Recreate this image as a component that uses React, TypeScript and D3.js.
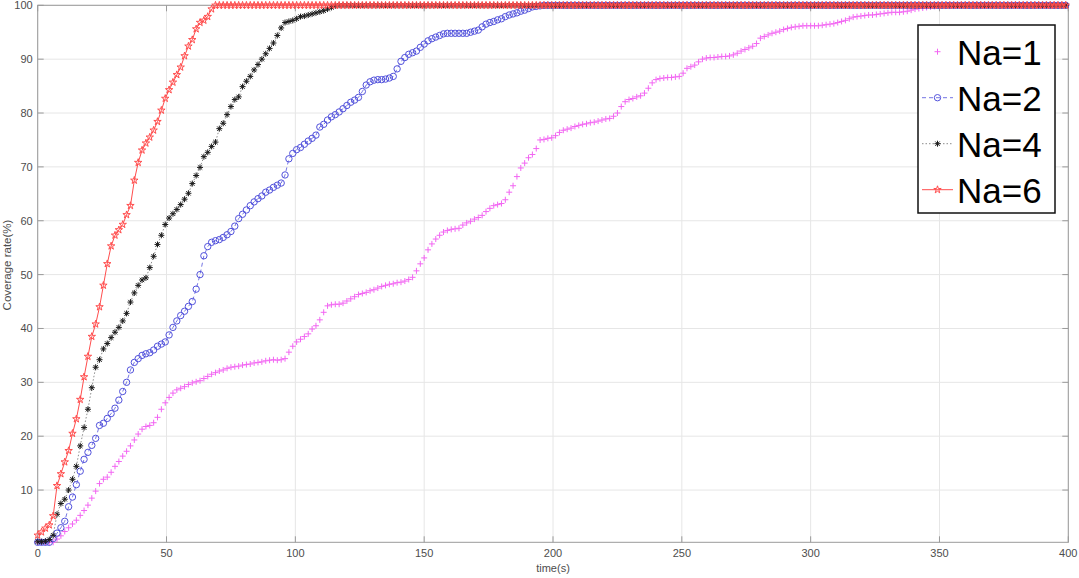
import React from "react";
import * as d3 from "d3";

// ---- data (coverage rate %, sampled every DT seconds) ----
const DT = 1.5;
const T_MAX = 400;
const FULL_VALUE = 100;
const X_TICKS = [0, 50, 100, 150, 200, 250, 300, 350, 400];
const Y_TICKS = [10, 20, 30, 40, 50, 60, 70, 80, 90, 100];
const SERIES_NAMES = ["Na=1", "Na=2", "Na=4", "Na=6"];

const NA1 = [
  0.3, 0.3, 0.3, 0.3, 0.3, 0.9, 1.5, 2.3, 3.0, 3.7, 4.4, 5.3, 6.2, 7.2, 8.5, 9.8, 11.2, 12.0, 12.4, 13.3,
  14.4, 15.3, 16.3, 17.2, 18.2, 19.3, 20.4, 21.3, 21.8, 22.0, 22.5, 23.5, 25.0, 26.2, 27.2, 28.0, 28.6, 28.9, 29.2, 29.6,
  29.9, 30.1, 30.3, 30.7, 31.1, 31.5, 31.8, 32.1, 32.3, 32.6, 32.8, 32.9, 33.0, 33.2, 33.3, 33.4, 33.6, 33.7, 33.8, 34.0,
  34.1, 34.2, 34.1, 34.2, 34.4, 35.6, 36.7, 37.5, 38.0, 38.5, 39.0, 39.9, 40.5, 41.6, 43.0, 44.2, 44.4, 44.5, 44.5, 44.7,
  45.1, 45.5, 45.9, 46.3, 46.5, 46.7, 47.0, 47.2, 47.5, 47.8, 48.0, 48.2, 48.3, 48.5, 48.6, 48.8, 49.1, 49.5, 50.7, 52.0,
  53.1, 54.6, 55.7, 56.6, 57.3, 57.9, 58.2, 58.4, 58.5, 58.6, 59.2, 59.6, 59.9, 60.3, 60.6, 61.0, 61.7, 62.3, 62.8, 63.0,
  63.2, 63.9, 65.3, 66.5, 68.2, 69.8, 70.7, 71.7, 72.3, 73.4, 75.0, 75.1, 75.3, 75.4, 75.8, 76.4, 76.8, 77.0, 77.2, 77.5,
  77.7, 77.9, 78.0, 78.2, 78.3, 78.5, 78.7, 78.9, 79.0, 79.4, 80.0, 81.2, 82.1, 82.5, 82.7, 83.0, 83.2, 83.7, 84.6, 85.6,
  86.2, 86.4, 86.5, 86.6, 86.6, 86.7, 86.8, 87.4, 88.3, 88.6, 88.9, 89.5, 90.0, 90.2, 90.3, 90.3, 90.4, 90.5, 90.5, 90.6,
  90.8, 91.1, 91.5, 91.8, 92.1, 92.4, 92.9, 93.9, 94.2, 94.5, 94.8, 95.0, 95.2, 95.5, 95.7, 95.9, 96.0, 96.1, 96.2, 96.2,
  96.2, 96.2, 96.2, 96.3, 96.4, 96.5, 96.6, 96.8, 97.0, 97.2, 97.5, 97.8, 97.9, 98.0, 98.1, 98.2, 98.2, 98.3, 98.4, 98.5,
  98.6, 98.7, 98.7, 98.7, 98.8, 98.9, 99.1, 99.3, 99.4, 99.5, 99.6, 99.7, 99.8, 99.9, 100,
];

const NA2 = [
  0.3, 0.3, 0.3, 0.3, 1.0, 2.0, 3.0, 4.2, 6.9, 8.7, 11.0, 13.5, 15.7, 17.0, 18.3, 19.6, 22.0, 22.4, 23.3, 24.2,
  25.2, 26.7, 28.3, 30.0, 32.3, 33.7, 34.4, 35.0, 35.3, 35.5, 36.0, 36.7, 37.1, 37.5, 38.8, 40.2, 41.4, 42.4, 43.2, 44.1,
  45.0, 47.3, 50.0, 53.5, 55.2, 56.0, 56.3, 56.5, 56.9, 57.4, 58.0, 59.0, 60.4, 61.2, 62.0, 62.8, 63.5, 64.1, 64.6, 65.3,
  65.7, 66.2, 66.6, 67.0, 68.5, 71.5, 72.5, 73.2, 73.6, 74.2, 74.8, 75.3, 75.9, 77.4, 77.9, 78.7, 79.3, 79.7, 80.2, 80.8,
  81.4, 82.0, 82.4, 82.9, 84.0, 85.2, 85.8, 86.1, 86.2, 86.2, 86.3, 86.5, 86.8, 88.2, 89.6, 90.3, 90.9, 91.2, 91.5, 92.2,
  92.8, 93.4, 93.8, 94.1, 94.4, 94.7, 94.8, 94.8, 94.8, 94.8, 94.8, 94.8, 95.0, 95.2, 95.4, 96.0, 96.5, 96.8, 97.0, 97.3,
  97.5, 97.9, 98.2, 98.4, 98.6, 98.9, 99.1, 99.4, 99.7, 99.8, 99.9, 100,
];

const NA4 = [
  0.4, 0.4, 0.5, 0.8, 1.6, 5.5, 7.5, 8.3, 10.0, 12.0, 14.4, 18.2, 21.6, 25.0, 29.0, 32.8, 34.2, 36.2, 37.2, 38.3,
  39.3, 40.2, 41.4, 42.8, 44.9, 46.6, 48.0, 49.0, 49.4, 51.3, 53.4, 55.6, 57.3, 59.3, 60.5, 61.3, 62.1, 63.0, 64.0, 65.1,
  66.9, 68.4, 69.9, 71.9, 72.7, 73.8, 74.6, 77.1, 78.1, 79.7, 81.2, 82.5, 83.0, 84.9, 85.9, 86.8, 88.0, 89.0, 90.0, 91.0,
  92.0, 93.0, 94.4, 95.8, 96.8, 97.0, 97.2, 97.5, 97.9, 98.0, 98.2, 98.4, 98.6, 98.8, 99.0, 99.3, 99.6, 99.9, 100,
];

const NA6 = [
  1.6, 2.2, 2.9, 3.5, 5.2, 10.8, 13.0, 15.2, 17.3, 20.5, 23.2, 26.8, 31.0, 34.8, 38.5, 40.8, 44.0, 48.0, 52.0, 55.3,
  57.3, 58.3, 59.3, 61.1, 62.8, 67.5, 70.8, 73.1, 74.4, 75.5, 76.8, 78.4, 80.5, 82.7, 84.3, 85.7, 87.1, 88.5, 90.6, 92.4,
  93.6, 95.6, 96.8, 97.2, 97.9, 99.3, 100,
];

const SERIES_VALUES = [NA1, NA2, NA4, NA6];

// ---- styles ----
const COLORS = ["#f266f2", "#5252dc", "#1a1a1a", "#ff4d4d"];
const LINE_DASH = [null, "4,3", "1.5,2", null];
const LINE_OPACITY = [0, 0.8, 0.5, 1];

const W = 1079;
const H = 578;
const M = { left: 37.7, right: 1068.3, top: 5.3, bottom: 542.3 };

function markerPath(i: number): string {
  if (i === 0) return "M-3,0H3M0,-3V3";
  if (i === 1) {
    const c = d3.path();
    c.arc(0, 0, 3.2, 0, Math.PI * 2);
    return c.toString();
  }
  if (i === 2) return "M-3,0H3M0,-3V3M-2.2,-2.2L2.2,2.2M-2.2,2.2L2.2,-2.2";
  return d3.symbol().type(d3.symbolStar).size(17)() as string;
}

export default function App() {
  if (typeof document !== "undefined") document.body.style.margin = "0";

  const x = d3.scaleLinear().domain([0, T_MAX]).range([M.left, M.right]);
  const y = d3.scaleLinear().domain([0.3, 100]).range([M.bottom, M.top]);

  const series = SERIES_VALUES.map((vals) => {
    const pts: [number, number][] = vals.map((v, k) => [k * DT, v]);
    let t = vals.length * DT;
    while (t <= T_MAX + 1e-9) {
      pts.push([t, FULL_VALUE]);
      t += DT;
    }
    return pts;
  });

  const line = d3
    .line<[number, number]>()
    .x((d) => x(d[0]))
    .y((d) => y(d[1]));

  const axisColor = "#9a9a9a";
  const textColor = "#4d4d4d";
  const font = "'Liberation Sans', Arial, sans-serif";

  const legendX = 918;
  const legendY = 25;
  const legendW = 137;
  const legendH = 188;

  return (
    <svg width={W} height={H} style={{ display: "block", background: "#fff" }} fontFamily={font}>
      <rect x={0} y={0} width={W} height={H} fill="#fff" />
      {/* grid */}
      {X_TICKS.map((t) => (
        <line key={"gx" + t} x1={x(t)} x2={x(t)} y1={M.top} y2={M.bottom} stroke="#e6e6e6" strokeWidth={1} />
      ))}
      {Y_TICKS.map((v) => (
        <line key={"gy" + v} x1={M.left} x2={M.right} y1={y(v)} y2={y(v)} stroke="#e6e6e6" strokeWidth={1} />
      ))}
      {/* box */}
      <rect x={M.left} y={M.top} width={M.right - M.left} height={M.bottom - M.top} fill="none" stroke={axisColor} strokeWidth={1} />
      {/* ticks */}
      {X_TICKS.map((t) => (
        <g key={"tx" + t}>
          <line x1={x(t)} x2={x(t)} y1={M.bottom} y2={M.bottom - 6} stroke={axisColor} />
          <line x1={x(t)} x2={x(t)} y1={M.top} y2={M.top + 6} stroke={axisColor} />
          <text x={x(t)} y={M.bottom + 15} textAnchor="middle" fontSize={11} fill={textColor}>
            {t}
          </text>
        </g>
      ))}
      {Y_TICKS.map((v) => (
        <g key={"ty" + v}>
          <line x1={M.left} x2={M.left + 6} y1={y(v)} y2={y(v)} stroke={axisColor} />
          <line x1={M.right} x2={M.right - 6} y1={y(v)} y2={y(v)} stroke={axisColor} />
          <text x={M.left - 5} y={y(v) + 4} textAnchor="end" fontSize={11} fill={textColor}>
            {v}
          </text>
        </g>
      ))}
      <text x={553} y={572} textAnchor="middle" fontSize={11} fill={textColor}>
        time(s)
      </text>
      <text
        transform={`translate(11,${265}) rotate(-90)`}
        textAnchor="middle"
        fontSize={11.5}
        fill={textColor}
      >
        Coverage rate(%)
      </text>

      {/* series */}
      {series.map((pts, i) => (
        <g key={"s" + i}>
          {LINE_OPACITY[i] > 0 && (
            <path
              d={line(pts) as string}
              fill="none"
              stroke={COLORS[i]}
              strokeWidth={1}
              strokeOpacity={LINE_OPACITY[i]}
              strokeDasharray={LINE_DASH[i] ?? undefined}
            />
          )}
          {pts.map((p, k) => (
            <path
              key={k}
              d={markerPath(i)}
              transform={`translate(${x(p[0])},${y(p[1])})`}
              fill="none"
              stroke={COLORS[i]}
              strokeWidth={1}
            />
          ))}
        </g>
      ))}

      {/* legend */}
      <rect x={legendX} y={legendY} width={legendW} height={legendH} fill="#fff" stroke="#111" strokeWidth={1.5} />
      {SERIES_NAMES.map((name, i) => {
        const cy = 51.7 + i * 46;
        return (
          <g key={"lg" + i}>
            {LINE_OPACITY[i] > 0 && (
              <line
                x1={922}
                x2={953}
                y1={cy}
                y2={cy}
                stroke={COLORS[i]}
                strokeOpacity={LINE_OPACITY[i]}
                strokeDasharray={LINE_DASH[i] ?? undefined}
              />
            )}
            <path d={markerPath(i)} transform={`translate(937.5,${cy})`} fill="none" stroke={COLORS[i]} />
            <text x={957} y={cy + 13} fontSize={35} fill="#000">
              {name}
            </text>
          </g>
        );
      })}
    </svg>
  );
}
